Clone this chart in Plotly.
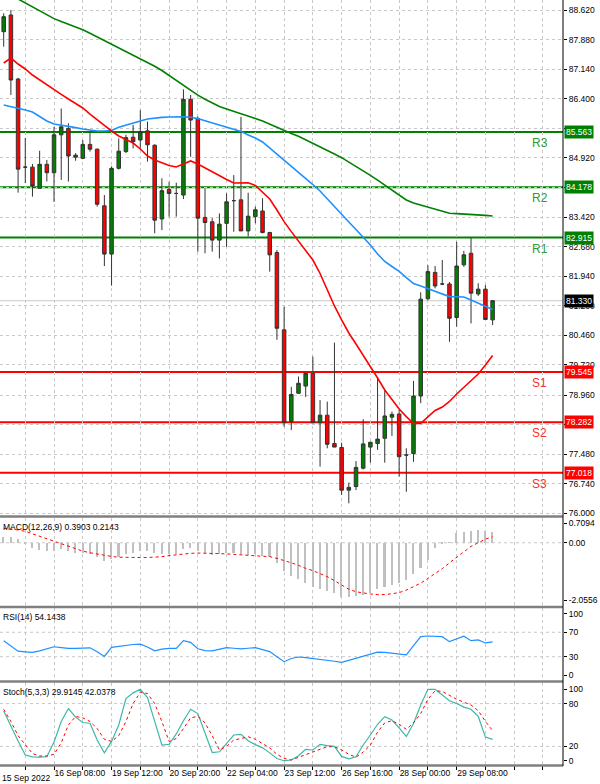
import plotly.graph_objects as go

# ---------------- data ----------------
date_labels = ["16 Sep 08:00", "19 Sep 12:00", "20 Sep 20:00", "22 Sep 04:00",
               "23 Sep 12:00", "26 Sep 16:00", "28 Sep 00:00", "29 Sep 08:00"]
label_pos = [7, 15, 23, 31, 39, 47, 55, 63]
first_label = "15 Sep 2022"

open_ = [88.076, 88.495, 86.89, 84.68, 84.68, 84.15, 84.75, 84.54, 85.49, 85.65,
         84.93, 84.90, 85.25, 85.13, 83.71, 82.50, 84.65, 85.07, 85.43, 85.36,
         85.59, 85.23, 83.38, 84.12, 84.02, 83.98, 86.38, 85.90, 83.42, 83.31,
         82.85, 83.27, 83.84, 83.86, 83.08, 83.44, 83.58, 83.04, 82.54, 80.60,
         78.30, 79.01, 79.19, 79.51, 78.27, 78.46, 77.75, 77.65, 76.58, 76.67,
         77.13, 77.66, 77.75, 77.88, 78.41, 78.49, 77.46, 77.50, 78.94, 81.38,
         82.04, 81.75, 81.75, 80.91, 82.23, 82.52, 81.50, 81.62, 80.85]
high = [88.537, 88.62, 86.92, 85.41, 84.76, 85.09, 84.86, 85.69, 86.15, 85.78,
        85.03, 85.36, 85.57, 85.15, 83.98, 84.70, 85.40, 85.49, 85.74, 86.11,
        85.82, 85.25, 84.40, 84.31, 84.29, 86.63, 86.49, 85.95, 84.15, 83.40,
        83.52, 84.02, 84.48, 85.94, 84.04, 83.69, 83.90, 83.06, 82.60, 81.18,
        79.17, 79.43, 79.51, 79.93, 78.84, 78.80, 80.28, 77.77, 76.77, 77.31,
        78.36, 77.80, 79.41, 79.09, 78.55, 78.59, 77.63, 79.32, 81.54, 82.22,
        82.20, 82.35, 81.80, 82.81, 82.58, 82.90, 81.77, 81.72, 81.35]
low = [87.70, 86.49, 84.04, 84.28, 83.94, 84.15, 84.32, 83.81, 84.36, 84.32,
       84.84, 84.88, 85.07, 83.69, 82.20, 81.71, 84.62, 85.03, 85.15, 85.15,
       84.82, 83.02, 83.10, 83.44, 83.44, 83.88, 84.94, 82.56, 82.52, 82.56,
       82.39, 82.68, 83.06, 83.08, 82.94, 83.27, 83.02, 82.06, 80.35, 78.17,
       78.09, 79.00, 78.92, 78.26, 77.17, 77.63, 77.66, 76.46, 76.25, 76.58,
       77.10, 77.27, 77.59, 77.27, 77.94, 76.92, 76.54, 77.29, 78.76, 81.34,
       81.64, 81.72, 80.30, 80.68, 82.18, 80.76, 81.45, 80.85, 80.72]
close = [88.452, 86.865, 84.63, 84.68, 84.21, 84.75, 84.54, 85.49, 85.69, 84.96,
         84.98, 85.25, 85.13, 83.75, 82.50, 84.65, 85.08, 85.42, 85.32, 85.57,
         85.24, 83.35, 84.09, 84.02, 84.02, 86.38, 85.86, 83.40, 83.29, 82.85,
         83.25, 83.81, 83.84, 83.08, 83.45, 83.61, 83.04, 82.48, 80.64, 78.27,
         78.98, 79.26, 79.51, 78.27, 78.46, 77.73, 77.66, 76.58, 76.65, 77.15,
         77.74, 77.78, 77.86, 78.44, 78.48, 77.42, 77.46, 78.94, 81.37, 82.06,
         81.70, 81.75, 80.89, 82.20, 82.48, 81.52, 81.62, 80.86, 81.33]

ma_fast = [87.291, 87.416, 87.266, 87.141, 86.990, 86.865, 86.739, 86.624, 86.506, 86.388,
           86.276, 86.163, 86.012, 85.862, 85.726, 85.586, 85.460, 85.373, 85.285, 85.135,
           84.959, 84.859, 84.784, 84.723, 84.683, 84.758, 84.834, 84.758, 84.658, 84.558,
           84.467, 84.370, 84.282, 84.282, 84.290, 84.219, 84.056, 83.881, 83.605, 83.314,
           83.063, 82.828, 82.602, 82.351, 82.013, 81.599, 81.198, 80.847, 80.521, 80.245,
           79.969, 79.693, 79.392, 79.092, 78.841, 78.615, 78.425, 78.252, 78.254, 78.427,
           78.577, 78.665, 78.803, 78.991, 79.152, 79.317, 79.493, 79.718, 79.957]
ma_mid = [86.238, 86.200, 86.155, 86.113, 86.062, 85.950, 85.837, 85.761, 85.736, 85.704,
          85.671, 85.636, 85.606, 85.586, 85.586, 85.598, 85.679, 85.736, 85.794, 85.837,
          85.887, 85.912, 85.927, 85.937, 85.942, 85.945, 85.932, 85.897, 85.842, 85.787,
          85.734, 85.686, 85.631, 85.576, 85.486, 85.410, 85.310, 85.160, 84.994, 84.839,
          84.698, 84.558, 84.407, 84.244, 84.081, 83.881, 83.680, 83.497, 83.304, 83.116,
          82.928, 82.727, 82.501, 82.314, 82.188, 82.068, 81.912, 81.762, 81.699, 81.637,
          81.569, 81.499, 81.434, 81.431, 81.424, 81.349, 81.273, 81.198, 81.110]
ma_slow = [89.071, 88.996, 88.896, 88.796, 88.703, 88.600, 88.500, 88.404, 88.332, 88.264,
           88.194, 88.124, 88.036, 87.946, 87.855, 87.768, 87.675, 87.584, 87.494, 87.404,
           87.316, 87.208, 87.103, 86.975, 86.855, 86.729, 86.609, 86.484, 86.383, 86.293,
           86.200, 86.138, 86.082, 86.022, 85.962, 85.900, 85.837, 85.754, 85.676, 85.596,
           85.521, 85.456, 85.370, 85.280, 85.190, 85.100, 85.009, 84.917, 84.811, 84.706,
           84.596, 84.475, 84.352, 84.232, 84.112, 83.991, 83.856, 83.780, 83.725, 83.675,
           83.630, 83.570, 83.522, 83.515, 83.507, 83.497, 83.480, 83.470, 83.455]

macd = [0.22, 0.20, 0.12, -0.05, -0.18, -0.25, -0.30, -0.28, -0.22, -0.30,
        -0.36, -0.38, -0.40, -0.50, -0.66, -0.58, -0.50, -0.42, -0.37, -0.30,
        -0.28, -0.38, -0.40, -0.42, -0.40, -0.22, -0.18, -0.30, -0.38, -0.44,
        -0.42, -0.38, -0.36, -0.42, -0.43, -0.42, -0.46, -0.52, -0.72, -1.02,
        -1.18, -1.30, -1.45, -1.60, -1.67, -1.73, -1.79, -1.93, -1.95, -1.90,
        -1.86, -1.79, -1.67, -1.60, -1.53, -1.45, -1.34, -1.12, -0.89, -0.61,
        -0.19, -0.02, 0.02, 0.34, 0.37, 0.43, 0.45, 0.43, 0.3903]
macd_signal = [0.52, 0.50, 0.46, 0.41, 0.32, 0.24, 0.15, 0.06, -0.04, -0.14,
               -0.22, -0.30, -0.36, -0.41, -0.45, -0.49, -0.52, -0.53, -0.53, -0.53,
               -0.53, -0.52, -0.50, -0.46, -0.43, -0.40, -0.38, -0.37, -0.37, -0.38,
               -0.39, -0.40, -0.42, -0.44, -0.45, -0.46, -0.48, -0.50, -0.56, -0.63,
               -0.72, -0.81, -0.92, -1.00, -1.10, -1.22, -1.36, -1.52, -1.67, -1.76,
               -1.81, -1.84, -1.86, -1.86, -1.83, -1.79, -1.70, -1.58, -1.45, -1.28,
               -1.12, -0.93, -0.72, -0.52, -0.30, -0.13, 0.00, 0.13, 0.2143]

rsi = [56, 47, 39, 38, 37, 39.5, 43, 46.3, 45, 43.7,
       43.7, 44, 44.6, 38, 30.5, 45.4, 47, 49, 50, 50.6,
       46, 39.5, 42.5, 43.5, 43.7, 56.3, 53.5, 43, 40, 39.6,
       42, 44.8, 43.8, 42.8, 43.8, 44.8, 41.5, 38.4, 30, 21.8,
       27, 29.5, 28.5, 27.3, 26, 24.5, 22.5, 20.8, 24, 27.8,
       31, 34.5, 37.5, 37, 35.7, 34, 33, 48, 62.8, 63.9,
       63.3, 62.8, 54.6, 59.5, 63.5, 56.3, 57.4, 52.5, 54.1438]

stoch_k = [69.6, 48, 27.6, 8, 5.5, 5, 5.6, 26, 55, 73,
           61, 53.5, 52.5, 29, 11, 27, 50, 87, 95, 100,
           88.5, 55, 22, 23, 37.5, 56, 72, 66, 38, 11.5,
           12.5, 24, 36, 37, 28, 22.5, 18, 11, 3, 0,
           1, 7, 16, 15, 23, 21, 20, 6, 2.5, 5.5,
           22, 36, 51, 61.6, 57, 46, 34, 52, 78, 100,
           100, 92, 84, 80, 75, 72, 62, 33, 29.9145]
stoch_d = [72, 55, 35, 22, 10, 6.6, 6.6, 9, 25, 50,
           62, 60, 55, 45, 30, 27, 35, 55, 80, 96,
           94, 80, 55, 27, 31, 45, 60, 62, 53, 35,
           15, 20, 29, 31, 33.5, 30, 24, 18, 9, 3.3,
           1, 5, 9, 12.5, 16, 19.6, 19.6, 15, 9, 5,
           12, 22, 40, 53, 56, 51, 44, 53, 66, 86,
           98, 97, 91, 86, 82, 78, 70, 55, 42.0378]

level_names = ["R3", "R2", "R1", "S1", "S2", "S3"]
level_values = [85.563, 84.178, 82.915, 79.545, 78.282, 77.018]
last_price = 81.330

price_ticks = [88.62, 87.88, 87.14, 86.40, 85.66, 84.92, 84.18, 83.42, 82.68,
               81.94, 81.20, 80.46, 79.72, 78.96, 78.22, 77.48, 76.74, 76.00]
hidden_price_ticks = [85.66, 84.18, 78.22]   # covered by the level boxes in the reference
macd_ticks = [0.7094, 0.0, -2.0556]
macd_ticktext = ["0.7094", "0.00", "-2.0556"]
rsi_ticks = [100, 70, 30, 0]
rsi_levels = [70, 30]
stoch_ticks = [100, 80, 20, 0]
stoch_levels = [80, 20]

# ---------------- figure ----------------
FONT = "Liberation Sans, Arial, sans-serif"
GRID = "#c8c8c8"
bars = list(range(len(open_)))
grid_x = list(range(3, 78, 4))
ticktext_x = [date_labels[label_pos.index(v)] if v in label_pos else "" for v in grid_x]
X_RANGE = [-0.515, 77.79]
price_ticktext = ["" if v in hidden_price_ticks else "%.3f" % v for v in price_ticks]

fig = go.Figure()
fig.add_trace(go.Candlestick(
    x=bars, open=open_, high=high, low=low, close=close, xaxis="x", yaxis="y",
    increasing=dict(line=dict(color="#333333", width=1), fillcolor="#008000"),
    decreasing=dict(line=dict(color="#333333", width=1), fillcolor="#ff0000"),
    whiskerwidth=0, showlegend=False, hoverinfo="skip"))
for vals, col in [(ma_slow, "#008000"), (ma_mid, "#1e90ff"), (ma_fast, "#ff0000")]:
    fig.add_trace(go.Scatter(x=bars, y=vals, mode="lines", line=dict(color=col, width=1.6),
                             xaxis="x", yaxis="y", showlegend=False, hoverinfo="skip"))

fig.add_trace(go.Bar(x=bars, y=macd, width=0.22, marker=dict(color="#c0c0c0", line=dict(width=0)),
                     xaxis="x2", yaxis="y2", showlegend=False, hoverinfo="skip"))
fig.add_trace(go.Scatter(x=bars, y=macd_signal, mode="lines",
                         line=dict(color="#ff0000", width=1, dash="dot"),
                         xaxis="x2", yaxis="y2", showlegend=False, hoverinfo="skip"))
fig.add_trace(go.Scatter(x=bars, y=rsi, mode="lines", line=dict(color="#1e90ff", width=1.2),
                         xaxis="x3", yaxis="y3", showlegend=False, hoverinfo="skip"))
fig.add_trace(go.Scatter(x=bars, y=stoch_k, mode="lines", line=dict(color="#3cb8a8", width=1.2),
                         xaxis="x4", yaxis="y4", showlegend=False, hoverinfo="skip"))
fig.add_trace(go.Scatter(x=bars, y=stoch_d, mode="lines", line=dict(color="#ff0000", width=1, dash="dot"),
                         xaxis="x4", yaxis="y4", showlegend=False, hoverinfo="skip"))

H = 766.0
def dom(top, bottom):
    return [1 - bottom / H, 1 - top / H]

xcommon = dict(range=X_RANGE, showgrid=True, gridcolor=GRID, griddash="3px,3px", gridwidth=1,
               tickvals=grid_x, zeroline=False, showline=False, fixedrange=True,
               automargin=False, tickangle=0)
ycommon = dict(side="right", zeroline=False, showline=False, ticks="outside", ticklen=3,
               tickcolor="#000", tickfont=dict(size=8.5, color="#000", family=FONT),
               fixedrange=True, automargin=False)

fig.update_layout(
    width=600, height=784, autosize=False,
    margin=dict(l=0, r=37, t=0, b=18, autoexpand=False),
    paper_bgcolor="white", plot_bgcolor="white",
    font=dict(family=FONT, size=9, color="#000"),
    showlegend=False,
    xaxis=dict(xcommon, anchor="y", showticklabels=False, ticks="", rangeslider=dict(visible=False)),
    xaxis2=dict(xcommon, anchor="y2", showticklabels=False, ticks=""),
    xaxis3=dict(xcommon, anchor="y3", showticklabels=False, ticks=""),
    xaxis4=dict(xcommon, anchor="y4", ticktext=ticktext_x, ticks="outside", ticklen=4, tickcolor="#000",
                ticklabelposition="outside right", tickfont=dict(size=8.5, color="#000", family=FONT)),
    yaxis=dict(ycommon, anchor="x", domain=dom(0, 515), range=[75.957, 88.871],
               tickvals=price_ticks, ticktext=price_ticktext,
               showgrid=True, gridcolor=GRID, griddash="3px,3px"),
    yaxis2=dict(ycommon, anchor="x2", domain=dom(518, 606), range=[-2.271, 0.889],
                tickvals=macd_ticks, ticktext=macd_ticktext, showgrid=False),
    yaxis3=dict(ycommon, anchor="x3", domain=dom(608, 680), range=[-8.2, 109.8],
                tickvals=rsi_ticks, ticktext=[str(v) for v in rsi_ticks], showgrid=False),
    yaxis4=dict(ycommon, anchor="x4", domain=dom(683, 765), range=[-6.0, 108.8],
                tickvals=stoch_ticks, ticktext=[str(v) for v in stoch_ticks], showgrid=False),
    bargap=0,
)

shapes = []
annotations = []
# support / resistance
for name, val in zip(level_names, level_values):
    is_r = name.startswith("R")
    col = "#008000" if is_r else "#ff0000"
    txtcol = "#2f9a2f" if is_r else "#ff3030"
    shapes.append(dict(type="line", xref="paper", x0=0, x1=1, yref="y", y0=val, y1=val,
                       line=dict(color=col, width=2), layer="between"))
    annotations.append(dict(text=name, xref="paper", x=0.959, xanchor="center", yref="y", y=val,
                            yanchor="top", yshift=-2, showarrow=False,
                            font=dict(size=12, color=txtcol, family=FONT)))
    annotations.append(dict(text="%.3f" % val, xref="paper", x=1, xanchor="left", xshift=1,
                            yref="y", y=val, yanchor="middle", showarrow=False, bgcolor=col,
                            borderpad=1, font=dict(size=8.5, color="white", family=FONT)))
# last price line and label
shapes.append(dict(type="line", xref="paper", x0=0, x1=1, yref="y", y0=last_price, y1=last_price,
                   line=dict(color="#c8c8c8", width=1), layer="between"))
annotations.append(dict(text="%.3f" % last_price, xref="paper", x=1, xanchor="left", xshift=1,
                        yref="y", y=last_price, yanchor="middle", showarrow=False, bgcolor="#000",
                        borderpad=1, font=dict(size=8.5, color="white", family=FONT)))
# indicator levels
shapes.append(dict(type="line", xref="paper", x0=0, x1=1, yref="y2", y0=0, y1=0,
                   line=dict(color=GRID, width=1, dash="3px,3px"), layer="between"))
for v in rsi_levels:
    shapes.append(dict(type="line", xref="paper", x0=0, x1=1, yref="y3", y0=v, y1=v,
                       line=dict(color=GRID, width=1, dash="3px,3px"), layer="between"))
for v in stoch_levels:
    shapes.append(dict(type="line", xref="paper", x0=0, x1=1, yref="y4", y0=v, y1=v,
                       line=dict(color=GRID, width=1, dash="3px,3px"), layer="between"))
# panel separators and right axis line
for ypix in [516.5, 607.0, 681.5, 765.5]:
    shapes.append(dict(type="line", xref="paper", x0=0, x1=1, yref="paper",
                       y0=1 - ypix / H, y1=1 - ypix / H, line=dict(color="#808080", width=2.5)))
shapes.append(dict(type="line", xref="paper", x0=1, x1=1, yref="paper", y0=0, y1=1,
                   line=dict(color="#000", width=1)))

# indicator titles
titles = [("y2", "MACD(12,26,9) %.4f %.4f" % (macd[-1], macd_signal[-1])),
          ("y3", "RSI(14) %.4f" % rsi[-1]),
          ("y4", "Stoch(5,3,3) %.4f %.4f" % (stoch_k[-1], stoch_d[-1]))]
for yr, t in titles:
    annotations.append(dict(text=t, xref="paper", x=0, xanchor="left", xshift=1,
                            yref=yr + " domain", y=1, yanchor="top", yshift=-2, showarrow=False,
                            font=dict(size=8.5, color="#000", family=FONT)))
annotations.append(dict(text=first_label, xref="paper", x=0, xanchor="left", xshift=0,
                        yref="paper", y=0, yanchor="top", yshift=-5, showarrow=False,
                        font=dict(size=8.5, color="#000", family=FONT)))

fig.update_layout(shapes=shapes, annotations=annotations)
fig.write_html("out.html")
